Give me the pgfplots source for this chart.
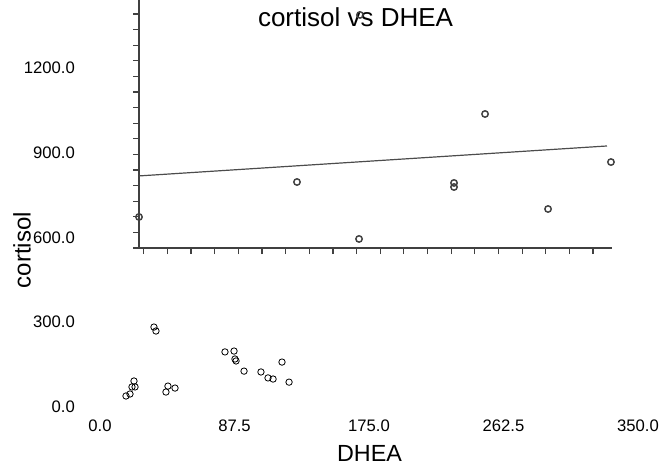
\documentclass[border=0pt]{standalone}
\usepackage{pgfplots}
\pgfplotsset{compat=1.18}
\usepackage{fontspec}
\setmainfont{Liberation Sans}

% cortisol / DHEA pairs of the main plot
\pgfplotstableread{
x y
35.1 283
36.4 269
81.3 195
87.2 198
87.8 170
88.5 163
93.7 127
104.7 124
109.3 103
112.6 99
118.4 159
123.0 88
22.1 92
20.8 71
22.8 71
19.5 46
16.9 39
44.2 74
48.8 67
42.9 53
}\maindata

% pasted-in inset (Glucose panel)
\pgfplotstableread{
x y
0.200 0.799
1.870 1.023
2.536 2.094
2.526 0.658
3.530 1.017
3.530 0.991
3.858 1.459
4.524 0.850
5.189 1.151
}\insetdata

\begin{document}
\begin{tikzpicture}
\path[use as bounding box] (0,0) rectangle (497.25pt,351pt);

\begin{axis}[
    at={(75pt,45.75pt)}, anchor=south west,
    scale only axis,
    width=403.5pt, height=254.25pt,
    xmin=0, xmax=350, ymin=0, ymax=1200,
    xtick={0,87.5,175,262.5,350},
    ytick={0,300,600,900,1200},
    axis line style={draw=none},
    tick style={draw=none},
    /pgf/number format/assume math mode=true,
    /pgf/number format/.cd, fixed, fixed zerofill, precision=1, 1000 sep={},
    /pgfplots/.cd,
    tick label style={font=\fontsize{12.5}{14}\selectfont},
    xticklabel style={anchor=base, yshift=-18pt},
    yticklabel style={anchor=east, xshift=-15.3pt},
    title={cortisol vs DHEA},
    title style={font=\fontsize{19.5}{22}\selectfont, at={(axis description cs:0.475,1.125)}, anchor=center},
    xlabel={DHEA},
    xlabel style={font=\fontsize{17.5}{20}\selectfont, at={(axis description cs:0.501,-0.136)}, anchor=center},
    ylabel={cortisol},
    ylabel style={font=\fontsize{18}{20}\selectfont, at={(axis description cs:-0.145,0.463)}, anchor=center},
]
\addplot[only marks, mark=o, mark size=2.4pt, mark options={line width=0.6pt, draw=black}] table {\maindata};
\end{axis}

\begin{axis}[
    at={(104.25pt,165pt)}, anchor=south west,
    scale only axis,
    width=354.75pt, height=187.2pt,
    xmin=0.2, xmax=5.2, ymin=0.6, ymax=2.2,
    axis lines*=left,
    axis line style={draw=black!75, line width=1pt},
    xtick distance=0.25, ytick distance=0.1,
    xticklabels={}, yticklabels={},
    tick align=outside,
    major tick length=4.5pt,
    tick style={draw=black!75, line width=0.9pt},
    clip=false,
]
\addplot[black!70, line width=0.9pt] coordinates {(0.2,1.062) (5.147,1.254)};
\addplot[only marks, mark=o, mark size=2.4pt, mark options={line width=1.1pt, draw=black!75}] table {\insetdata};
\end{axis}
\end{tikzpicture}
\end{document}
